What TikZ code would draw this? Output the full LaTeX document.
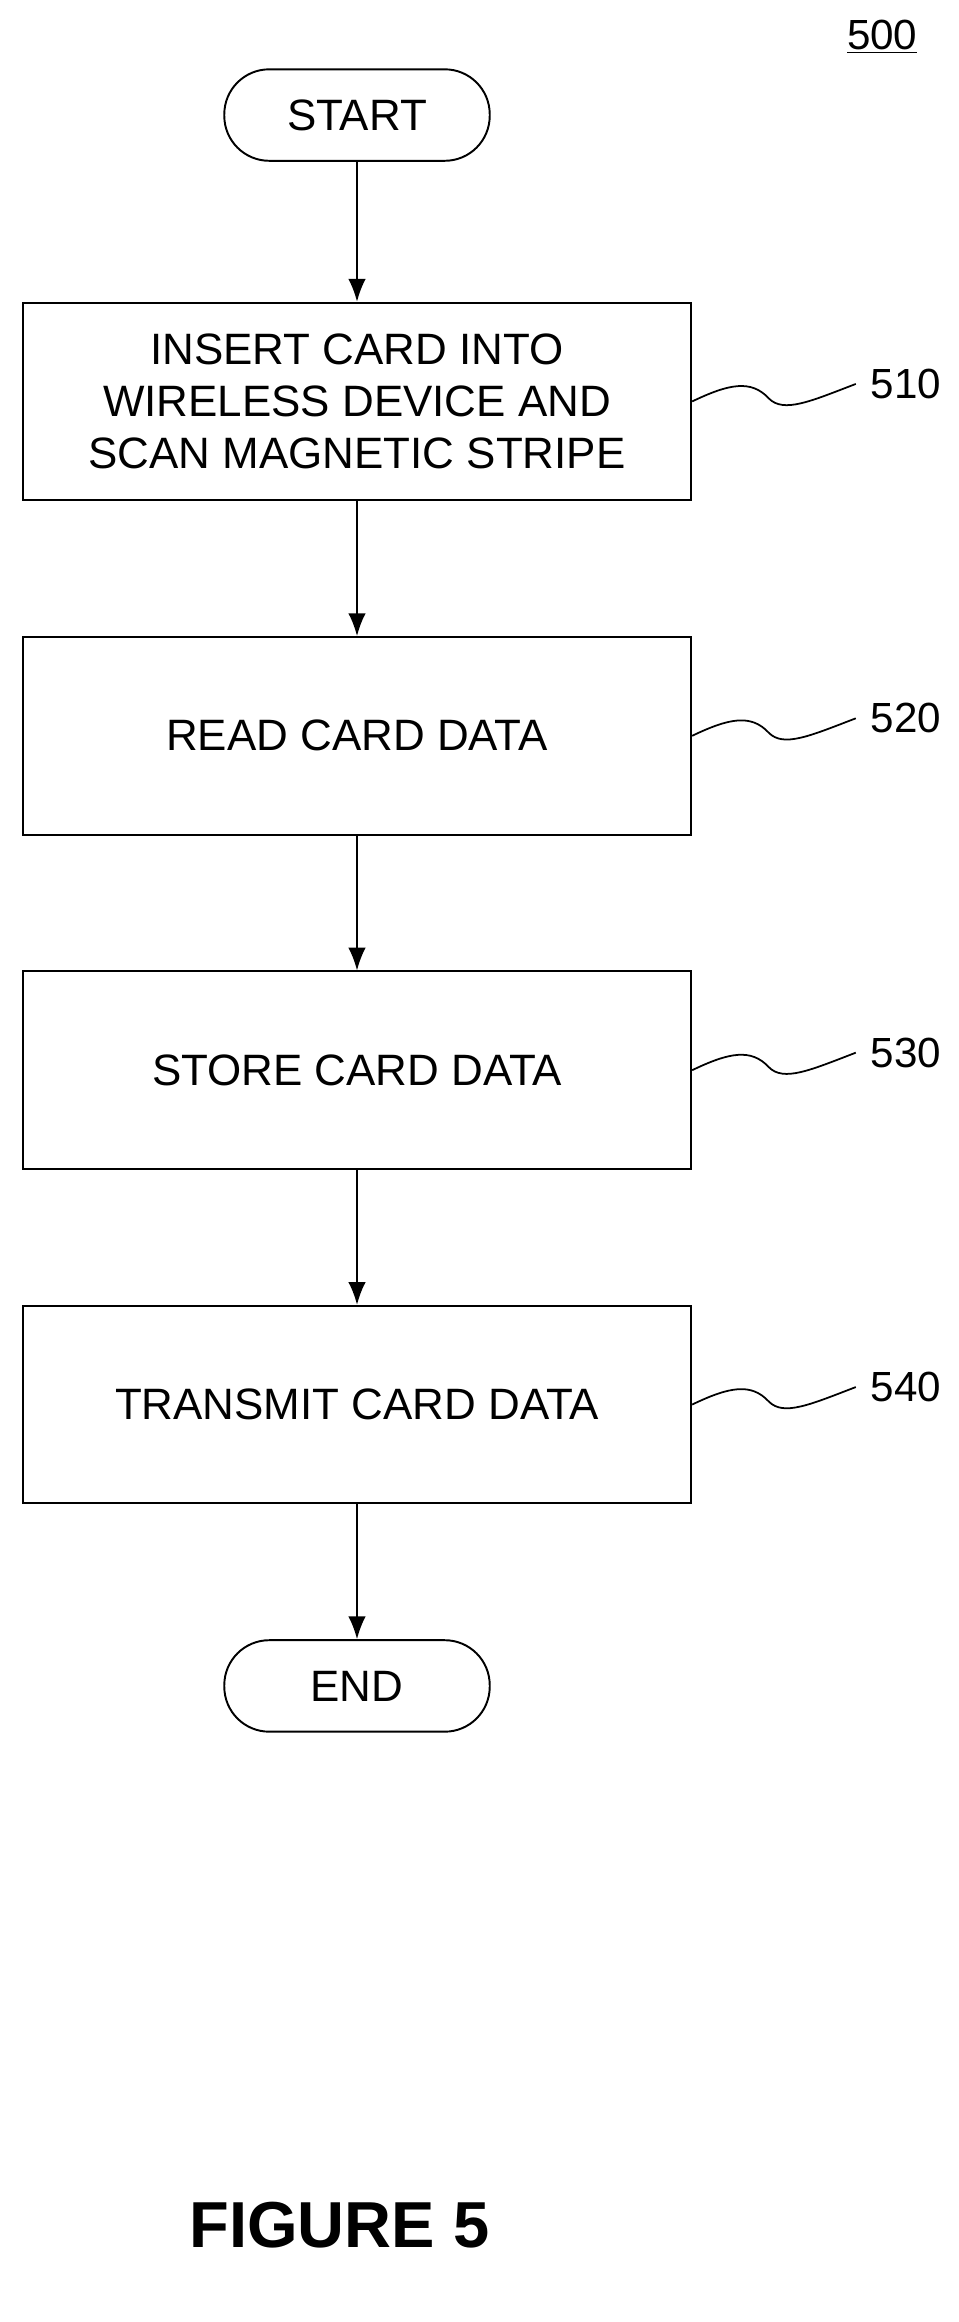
\documentclass[tikz,border=0pt]{standalone}
\usepackage{fontspec}
\setmainfont{Liberation Sans}
\usetikzlibrary{positioning}
\usetikzlibrary{arrows.meta}
\usetikzlibrary{calc}

\begin{document}
\begin{tikzpicture}[
    x=0.02951cm, y=-0.02951cm,
    block/.style={rectangle, draw=black, fill=white, line width=1.1pt, minimum width=13.37cm, minimum height=3.95cm, align=center, font=\fontsize{25}{29.5}\selectfont},
    term/.style={rectangle, rounded corners=0.9cm, draw=black, line width=1.1pt, minimum width=5.31cm, minimum height=1.83cm, font=\fontsize{25}{30}\selectfont},
    ref/.style={font=\fontsize{24}{28}\selectfont},
    flow/.style={-{Latex[length=13pt,width=10pt]}, line width=1.1pt},
    node distance=2.7cm,
]
    \useasboundingbox (0,0) rectangle (650,1574);

    \node[ref] (N500) at (598,25) {\underline{500}};

    \node[term] (S) at (242,78) {START};

    \node[block] (B1) [below=2.8cm of S] {INSERT CARD INTO\\WIRELESS DEVICE AND\\SCAN MAGNETIC STRIPE};
    \node[block] (B2) [below=of B1] {READ CARD DATA};
    \node[block] (B3) [below=of B2] {STORE CARD DATA};
    \node[block] (B4) [below=of B3] {TRANSMIT CARD DATA};

    \node[term] (E) [below=of B4] {END};

    \node[ref] (L1) [right=3.45cm of B1.east, yshift=0.35cm] {510};
    \node[ref] (L2) [right=3.45cm of B2.east, yshift=0.35cm] {520};
    \node[ref] (L3) [right=3.45cm of B3.east, yshift=0.35cm] {530};
    \node[ref] (L4) [right=3.45cm of B4.east, yshift=0.35cm] {540};

    \draw[flow] (S) -- (B1);
    \draw[flow] (B1) -- (B2);
    \draw[flow] (B2) -- (B3);
    \draw[flow] (B3) -- (B4);
    \draw[flow] (B4) -- (E);

    \foreach \b/\l in {B1/L1, B2/L2, B3/L3, B4/L4}{
        \draw[line width=1pt] (\b.east) .. controls ($(\b.east)+(25,-12)$) and ($(\b.east)+(40,-15)$) .. ($(\b.east)+(52,-2)$)
            .. controls ($(\b.east)+(62,8)$) and ($(\b.east)+(80,0)$) .. ($(\l.west)+(-6,0)$);
    }

    \node[font=\fontsize{37}{44}\selectfont\bfseries] (F) at (230,1508) {FIGURE 5};
\end{tikzpicture}
\end{document}
